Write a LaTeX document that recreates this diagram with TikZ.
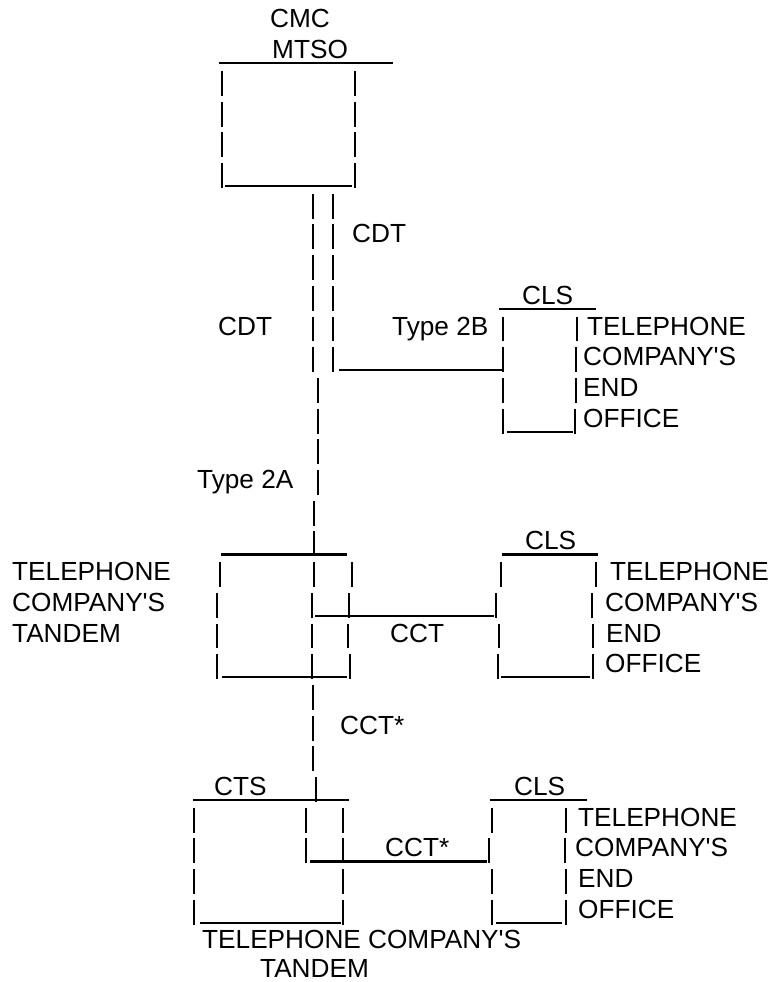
\documentclass[tikz,border=0pt]{standalone}
\usepackage{fontspec}
\setmainfont{Liberation Sans}
\tikzset{
  lbl/.style={anchor=base west, inner sep=0pt, font=\fontsize{26.2}{30.7}\selectfont},
  pipe/.style={line width=2pt},
  rule/.style={line width=2.2pt},
}
% one bar of the character grid, row #2 at x=#1
\newcommand{\pipeat}[2]{\draw[pipe] (#1,#2-0.6) -- (#1,#2+0.21);}
\newcommand{\ap}{\textquotesingle}

\begin{document}
\begin{tikzpicture}[x=1pt, y=-30.7pt]
    \useasboundingbox (0,-0.912) rectangle (770,31.075);

    % CMC / MTSO box
    \node[lbl] (cmc) at (270,0) {CMC};
    \node[lbl] (mtso) at (272,1) {MTSO};
    \draw[rule] (219,1.15) -- (393,1.15);
    \foreach \r in {2,...,5} {\pipeat{222}{\r} \pipeat{355}{\r}}
    \draw[rule] (225,5.15) -- (352,5.15);

    % CDT trunks
    \foreach \r in {6,...,11} {\pipeat{313}{\r} \pipeat{333}{\r}}
    \node[lbl] (cdtR) at (352,7) {CDT};
    \node[lbl] (cdtL) at (218,10) {CDT};
    \foreach \r in {12,...,15} {\pipeat{318}{\r}}
    \node[lbl] (type2a) at (197,15) {Type 2A};
    \pipeat{314}{16} \pipeat{314}{17}

    % Type 2B link to first end office
    \node[lbl] (type2b) at (392,10) {Type 2B};
    \coordinate (t2bA) at (339,11.15);
    \coordinate (t2bB) at (503,11.15);
    \draw[rule] (t2bA) -- (t2bB);

    % CLS end office (Type 2B)
    \node[lbl] (clsA) at (522,9) {CLS};
    \draw[rule] (499,9.15) -- (596,9.15);
    \foreach \r in {10,...,13} {\pipeat{503}{\r}}
    \pipeat{577}{10} \pipeat{576}{11} \pipeat{576}{12} \pipeat{575}{13}
    \draw[rule] (507,13.15) -- (573,13.15);
    \node[lbl] (telA) at (587,10) {TELEPHONE};
    \node[lbl] (compA) at (583,11) {COMPANY\ap S};
    \node[lbl] (endA) at (583,12) {END};
    \node[lbl] (offA) at (583,13) {OFFICE};

    % Telephone company's tandem
    \node[lbl] (telT) at (12,18) {TELEPHONE};
    \node[lbl] (compT) at (12,19) {COMPANY\ap S};
    \node[lbl] (tandT) at (12,20) {TANDEM};
    \draw[rule] (221,17.15) -- (347,17.15);
    \pipeat{220}{18} \pipeat{314}{18} \pipeat{352}{18}
    \foreach \r in {19,20,21} {\pipeat{217}{\r} \pipeat{312}{\r}}
    \pipeat{349}{19} \pipeat{348}{20} \pipeat{350}{21}
    \draw[rule] (222,21.15) -- (347,21.15);

    % CCT link to second end office
    \coordinate (cctA) at (315,19.15);
    \coordinate (cctB) at (494,19.15);
    \draw[rule] (cctA) -- (cctB);
    \node[lbl] (cct) at (390,20) {CCT};

    % CLS end office (tandem)
    \node[lbl] (clsB) at (525,17) {CLS};
    \draw[rule] (502,17.15) -- (598,17.15);
    \pipeat{501}{18} \pipeat{496}{19} \pipeat{499}{20} \pipeat{498}{21}
    \pipeat{596}{18} \pipeat{592}{19} \pipeat{593}{20} \pipeat{593}{21}
    \draw[rule] (501,21.15) -- (590,21.15);
    \node[lbl] (telB) at (610,18) {TELEPHONE};
    \node[lbl] (compB) at (605,19) {COMPANY\ap S};
    \node[lbl] (endB) at (606,20) {END};
    \node[lbl] (offB) at (605,21) {OFFICE};

    % CCT* trunk down to CTS
    \foreach \r in {22,23,24} {\pipeat{313}{\r}}
    \pipeat{316}{25}
    \node[lbl] (cctsA) at (340,23) {CCT*};

    % CTS (telephone company's tandem)
    \node[lbl] (cts) at (214,25) {CTS};
    \draw[rule] (193,25.15) -- (349,25.15);
    \foreach \r in {26,...,29} {\pipeat{194}{\r} \pipeat{343}{\r}}
    \pipeat{306}{26} \pipeat{306}{27}
    \draw[rule] (200,29.15) -- (341,29.15);
    \node[lbl] (ctsTel) at (202,29.97) {TELEPHONE COMPANY\ap S};
    \node[lbl] (ctsTand) at (260,30.93) {TANDEM};

    % CCT* link to third end office
    \coordinate (cctsB1) at (310,27.15);
    \coordinate (cctsB2) at (487,27.15);
    \draw[rule] (cctsB1) -- (cctsB2);
    \node[lbl] (cctsB) at (385,27) {CCT*};

    % CLS end office (CTS)
    \node[lbl] (clsC) at (514,25) {CLS};
    \draw[rule] (490,25.15) -- (587,25.15);
    \pipeat{492}{26} \pipeat{489}{27} \pipeat{492}{28} \pipeat{492}{29}
    \pipeat{566}{26} \pipeat{565}{27} \pipeat{566}{28} \pipeat{566}{29}
    \draw[rule] (496,29.15) -- (562,29.15);
    \node[lbl] (telC) at (578,26) {TELEPHONE};
    \node[lbl] (compC) at (575,27) {COMPANY\ap S};
    \node[lbl] (endC) at (578,28) {END};
    \node[lbl] (offC) at (578,29) {OFFICE};
\end{tikzpicture}
\end{document}
